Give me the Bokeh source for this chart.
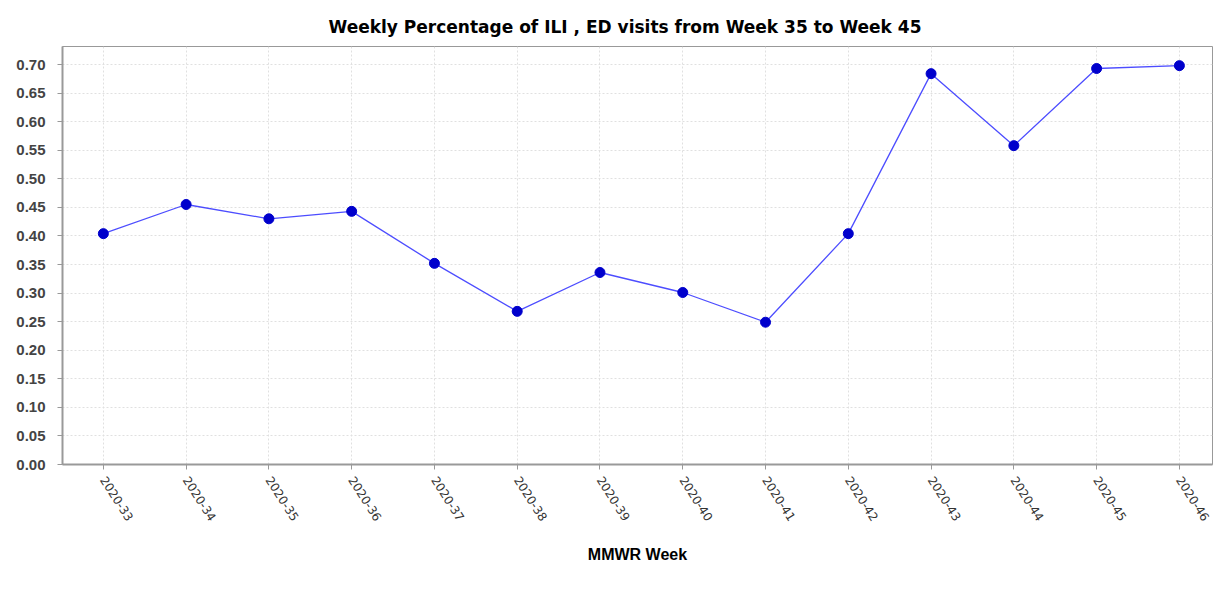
import math
from bokeh.plotting import figure
from bokeh.models import (FixedTicker, NumeralTickFormatter, Range1d, Legend, LegendItem,
                          ColumnDataSource)
from bokeh.embed import file_html
from bokeh.resources import INLINE

weeks = ["2020-33", "2020-34", "2020-35", "2020-36", "2020-37", "2020-38", "2020-39",
         "2020-40", "2020-41", "2020-42", "2020-43", "2020-44", "2020-45", "2020-46"]
values = [0.404, 0.455, 0.430, 0.443, 0.352, 0.268, 0.336,
          0.301, 0.249, 0.404, 0.684, 0.558, 0.693, 0.698]
y_ticks = [round(i * 0.05, 2) for i in range(15)]

title = "Weekly Percentage of ILI , ED visits from Week 35 to Week 45"
xs = list(range(len(weeks)))
src = ColumnDataSource(dict(x=xs, y=values))

p = figure(frame_width=1150, frame_height=418,
           min_border_left=62, min_border_right=5, min_border_top=46, min_border_bottom=0,
           x_range=Range1d(-0.4935, len(weeks) - 1 + 0.4), y_range=Range1d(0, 0.7315),
           output_backend="svg", toolbar_location=None, title=title)

p.title.align = "left"
p.title.offset = 266
p.title.standoff = 20
p.title.text_font = "DejaVu Sans"
p.title.text_font_size = "17px"
p.title.text_font_style = "bold"
p.title.text_color = "#000000"

p.outline_line_color = "#999999"
p.outline_line_width = 1

line = p.line("x", "y", source=src, line_color="#3a3aff", line_width=1.3, line_alpha=0.9)
pts = p.scatter("x", "y", source=src, size=10, fill_color="#0000cc", line_color="#0000cc")

# axes
xa = p.xaxis[0]
xa.ticker = FixedTicker(ticks=xs)
xa.major_label_overrides = {i: w for i, w in enumerate(weeks)}
xa.major_label_orientation = -1.0
xa.major_label_standoff = 8
xa.major_label_text_font = "DejaVu Sans"
xa.major_label_text_font_size = "12px"
xa.major_label_text_color = "#333333"
xa.axis_label = "MMWR Week"
xa.axis_label_text_font = "Liberation Sans"
xa.axis_label_text_font_style = "bold"
xa.axis_label_text_font_size = "16px"
xa.axis_label_standoff = 18
xa.axis_label_text_color = "#000000"
xa.axis_line_color = "#999999"
xa.axis_line_width = 2
xa.major_tick_line_color = "#999999"
xa.major_tick_out = 5
xa.major_tick_in = 0
xa.minor_tick_line_color = None

ya = p.yaxis[0]
ya.ticker = FixedTicker(ticks=y_ticks)
ya.formatter = NumeralTickFormatter(format="0.00")
ya.major_label_text_font = "Liberation Sans"
ya.major_label_text_font_style = "bold"
ya.major_label_text_font_size = "15px"
ya.major_label_text_color = "#444444"
ya.axis_line_color = "#999999"
ya.axis_line_width = 2
ya.major_tick_line_color = "#999999"
ya.major_tick_out = 5
ya.major_tick_in = 0
ya.minor_tick_line_color = None
ya.major_label_standoff = 12

for g in (p.xgrid[0], p.ygrid[0]):
    g.grid_line_color = "#e0e0e0"
    g.grid_line_dash = "2 2"
    g.grid_line_width = 1
p.ygrid[0].ticker = FixedTicker(ticks=y_ticks)
p.xgrid[0].ticker = FixedTicker(ticks=xs)

legend = Legend(items=[LegendItem(label="Data: Normal", renderers=[pts])],
                orientation="horizontal", location="top_center",
                border_line_color=None, background_fill_alpha=0,
                label_text_font="Liberation Sans", label_text_font_size="14px",
                label_text_color="#000000", glyph_width=12, glyph_height=12,
                label_standoff=2, padding=0, margin=8, spacing=0,
                label_height=14)
p.add_layout(legend, "below")

open("out.html", "w").write(file_html(p, INLINE))
